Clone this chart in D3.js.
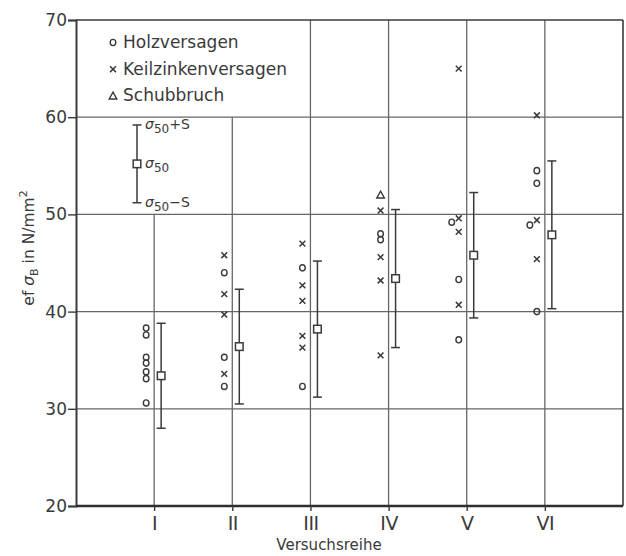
<!DOCTYPE html>
<html>
<head>
<meta charset="utf-8">
<script src="https://cdn.jsdelivr.net/npm/d3@7"></script>
<style>
  html, body { margin: 0; padding: 0; background: #fff; }
  svg { display: block; }
  text { font-family: "DejaVu Sans", sans-serif; fill: #3a3a3a; }
</style>
</head>
<body>
<svg id="chart" width="626" height="556"></svg>
<script>
// Test series (Versuchsreihe) and their single results, by failure mode
const categories = ["I", "II", "III", "IV", "V", "VI"];
const holzversagen = [
  [38.3, 37.6, 35.3, 34.7, 33.8, 33.1, 30.6],
  [44.0, 35.3, 32.3],
  [44.5, 32.3],
  [48.0, 47.4],
  [49.2, 43.3, 37.1],
  [54.5, 53.2, 48.9, 40.0]
];
const keilzinkenversagen = [
  [],
  [45.8, 41.8, 39.7, 33.6],
  [47.0, 42.7, 41.1, 37.5, 36.3],
  [50.4, 45.6, 43.2, 35.5],
  [65.0, 49.6, 48.2, 40.7],
  [60.2, 49.4, 45.4]
];
const schubbruch = [[], [], [], [52.0], [], []];
// 50 % value and standard deviation per series
const sigma50 = [33.4, 36.4, 38.2, 43.4, 45.8, 47.9];
const stdDev = [5.4, 5.9, 7.0, 7.1, 6.45, 7.6];
// y ticks
const yTicks = [20, 30, 40, 50, 60, 70];
// key glyph for the sigma50 ± s bar
const keyMean = 55.2;
const keyS = 4.0;

const svg = d3.select("#chart");
const ink = "#3a3a3a";
const grid = "#666";

const x = d3.scaleLinear().domain([0, 7]).range([76, 623]);
const y = d3.scaleLinear().domain([20, 70]).range([506, 20]);

// grid: horizontal lines
svg.append("g").selectAll("line").data(yTicks.filter(t => t > 20 && t < 70)).join("line")
  .attr("x1", x(0)).attr("x2", x(7))
  .attr("y1", d => y(d)).attr("y2", d => y(d))
  .attr("stroke", grid).attr("stroke-width", 1.3);

// grid: vertical lines at each series; the first two stop below the key
const vTop = [50, 60, 70, 70, 70, 70];
svg.append("g").selectAll("line").data(categories).join("line")
  .attr("x1", (d, i) => x(i + 1)).attr("x2", (d, i) => x(i + 1))
  .attr("y1", y(20)).attr("y2", (d, i) => y(vTop[i]))
  .attr("stroke", grid).attr("stroke-width", 1.3);

// frame top and right
svg.append("line").attr("x1", x(0)).attr("x2", x(7)).attr("y1", y(70)).attr("y2", y(70))
  .attr("stroke", ink).attr("stroke-width", 1.6);
svg.append("line").attr("x1", x(7)).attr("x2", x(7)).attr("y1", y(70)).attr("y2", y(20))
  .attr("stroke", ink).attr("stroke-width", 1.6);

// y axis
const yAxis = svg.append("g").attr("transform", `translate(${x(0)},0)`)
  .call(d3.axisLeft(y).tickValues(yTicks).tickSize(8).tickPadding(1).tickFormat(d3.format("d")));
yAxis.select(".domain").attr("stroke", ink).attr("stroke-width", 2);
yAxis.selectAll(".tick line").attr("stroke", ink).attr("stroke-width", 1.4);
yAxis.selectAll(".tick text").attr("font-size", 17).attr("fill", "#3a3a3a")
  .attr("font-family", "DejaVu Sans, sans-serif");

// x axis with Roman series numbers
const xAxis = svg.append("g").attr("transform", `translate(0,${y(20)})`)
  .call(d3.axisBottom(x).tickValues(d3.range(1, 7)).tickSize(5).tickPadding(6)
    .tickFormat(d => categories[d - 1]));
xAxis.select(".domain").attr("stroke", "#2e2e2e").attr("stroke-width", 2.6)
  .attr("d", `M${x(0)},0H${x(7)}`);
xAxis.selectAll(".tick line").attr("stroke", ink).attr("stroke-width", 1.4);
xAxis.selectAll(".tick text").attr("font-size", 19).attr("fill", "#3a3a3a")
  .attr("font-family", "Liberation Serif, serif").attr("letter-spacing", -0.5);

// axis titles
svg.append("text").attr("x", 329).attr("y", 550).attr("text-anchor", "middle")
  .attr("font-size", 15).text("Versuchsreihe");

const yt = svg.append("text").attr("transform", "translate(34,248) rotate(-90)")
  .attr("text-anchor", "middle").attr("font-size", 15.5);
yt.append("tspan").text("ef ");
yt.append("tspan").attr("font-style", "italic").text("σ");
yt.append("tspan").attr("font-size", 11).attr("dy", 4).text("B");
yt.append("tspan").attr("dy", -4).text(" in N/mm");
yt.append("tspan").attr("font-size", 11).attr("dy", -7).text("2");

// markers
const markerOff = -8, barOff = 7;
const pts = [];
categories.forEach((c, i) => {
  holzversagen[i].forEach(v => pts.push({ i, v, type: "holz" }));
  keilzinkenversagen[i].forEach(v => pts.push({ i, v, type: "keil" }));
  schubbruch[i].forEach(v => pts.push({ i, v, type: "schub" }));
});
// a circle lying next to a cross of nearly the same value is moved aside
pts.forEach(p => {
  p.dx = 0;
  if (p.type === "holz" && pts.some(q => q.i === p.i && q.type !== "holz" && Math.abs(q.v - p.v) < 0.8)) p.dx = -7;
});

function drawMarker(g, type, cx, cy) {
  if (type === "holz") {
    g.append("ellipse").attr("cx", cx).attr("cy", cy).attr("rx", 2.8).attr("ry", 3.1)
      .attr("fill", "none").attr("stroke", ink).attr("stroke-width", 1.4);
  } else if (type === "keil") {
    const s = 2.9;
    g.append("path").attr("d", `M${cx - s},${cy - s}L${cx + s},${cy + s}M${cx - s},${cy + s}L${cx + s},${cy - s}`)
      .attr("stroke", ink).attr("stroke-width", 1.5).attr("fill", "none");
  } else {
    const s = 3.8;
    g.append("path").attr("d", `M${cx},${cy - s}L${cx + s},${cy + s * 0.8}L${cx - s},${cy + s * 0.8}Z`)
      .attr("stroke", ink).attr("stroke-width", 1.4).attr("fill", "none");
  }
}

const mg = svg.append("g");
pts.forEach(p => drawMarker(mg, p.type, x(p.i + 1) + markerOff + p.dx, y(p.v)));

// sigma50 ± s bars
function drawBar(g, cx, m, s) {
  g.append("line").attr("x1", cx).attr("x2", cx).attr("y1", y(m + s)).attr("y2", y(m - s))
    .attr("stroke", ink).attr("stroke-width", 1.5);
  [m + s, m - s].forEach(v => g.append("line").attr("x1", cx - 4.5).attr("x2", cx + 4.5)
    .attr("y1", y(v)).attr("y2", y(v)).attr("stroke", ink).attr("stroke-width", 1.5));
  g.append("rect").attr("x", cx - 3.8).attr("y", y(m) - 3.8).attr("width", 7.6).attr("height", 7.6)
    .attr("fill", "#fff").attr("stroke", ink).attr("stroke-width", 1.5);
}
const bg = svg.append("g");
sigma50.forEach((m, i) => drawBar(bg, x(i + 1) + barOff, m, stdDev[i]));

// key
const key = svg.append("g");
const keyItems = [["holz", "Holzversagen"], ["keil", "Keilzinkenversagen"], ["schub", "Schubbruch"]];
keyItems.forEach(([t, label], k) => {
  const by = 48 + k * 26.7;
  drawMarker(key, t, 113, by - 5.5);
  key.append("text").attr("x", 123).attr("y", by).attr("font-size", 17).text(label);
});
drawBar(key, 137, keyMean, keyS);
function sigmaLabel(v, suffix) {
  const t = key.append("text").attr("x", 145).attr("y", y(v) + 4).attr("font-size", 14);
  t.append("tspan").attr("font-style", "italic").text("σ");
  t.append("tspan").attr("font-size", 12).attr("dy", 4).text("50");
  if (suffix) t.append("tspan").attr("dy", -4).attr("font-size", 14).text(suffix);
}
sigmaLabel(keyMean + keyS, "+S");
sigmaLabel(keyMean, "");
sigmaLabel(keyMean - keyS, "−S");
</script>
</body>
</html>
